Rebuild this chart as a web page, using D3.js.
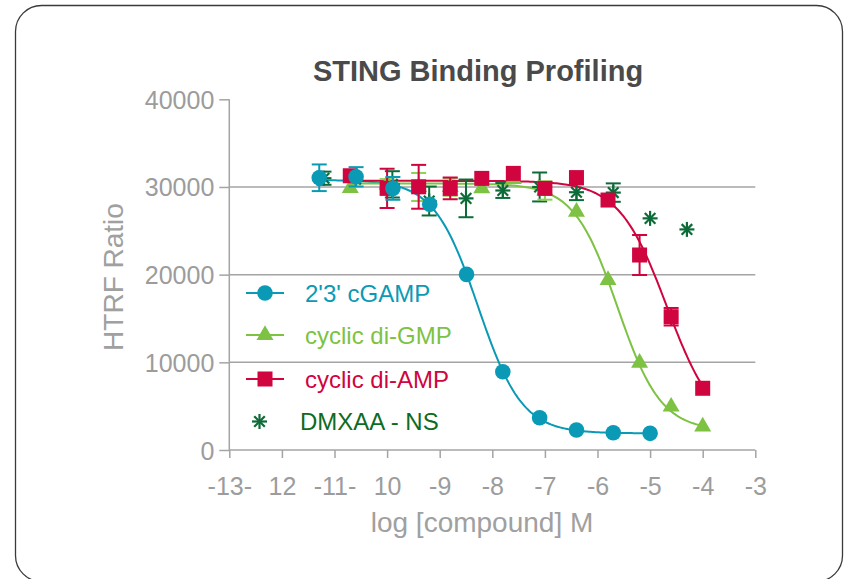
<!DOCTYPE html>
<html><head><meta charset="utf-8">
<script src="https://cdn.jsdelivr.net/npm/d3@7"></script>
<style>html,body{margin:0;padding:0;background:#fff;} svg{display:block;font-family:"Liberation Sans",Arial,Helvetica,sans-serif;}</style>
</head><body><svg id="c" width="844" height="579"></svg>
<script>
// ---- data ----
const chartTitle = "STING Binding Profiling";
const xAxisTitle = "log [compound] M";
const yAxisTitle = "HTRF Ratio";
const xTickValues = [-13,-12,-11,-10,-9,-8,-7,-6,-5,-4,-3];
const xTickLabels = ["-13-","12","-11-","10","-9","-8","-7","-6","-5","-4","-3"];
const yTickValues = [0,10000,20000,30000,40000];
const yGridValues = [10000,20000,30000];

const seriesNames = ["2'3' cGAMP","cyclic di-GMP","cyclic di-AMP","DMXAA - NS"];

const cgampX   = [-11.29,-10.59,-9.89,-9.19,-8.49,-7.80,-7.10,-6.40,-5.70,-5.00];
const cgampY   = [31050,31160,29840,28020,20030,8930,3680,2280,1970,1900];
const cgampErr = [1520,1100,1300,0,0,0,0,0,0,0];

const diGmpX   = [-10.7,-10.0,-9.4,-8.8,-8.2,-7.6,-7.0,-6.4,-5.8,-5.2,-4.6,-4.0];
const diGmpY   = [29870,30300,30000,30000,29840,30900,29600,27170,19380,9950,4940,2660];
const diGmpErr = [0,600,1600,1000,0,0,1050,0,0,0,0,0];

const diAmpX   = [-10.7,-10.0,-9.4,-8.8,-8.2,-7.6,-7.0,-6.4,-5.8,-5.2,-4.6,-4.0];
const diAmpY   = [31280,29840,30020,29840,30980,31550,29840,31070,28510,22240,15200,7040];
const diAmpErr = [0,2240,2500,1240,0,0,0,0,0,2280,1000,0];

const dmxaaX   = [-11.2,-10.6,-9.9,-9.2,-8.5,-7.8,-7.1,-6.4,-5.7,-5.0,-4.3];
const dmxaaY   = [31000,30900,30300,28400,28700,29600,30000,29400,29360,26420,25160];
const dmxaaErr = [750,0,1500,1650,2150,850,1650,900,1050,0,0];

// 4-parameter logistic fit parameters
const fitTop    = [30800,30400,30700];
const fitBottom = [1900,2200,2000];
const fitLogEC  = [-8.27,-5.62,-4.68];
const fitHill   = [1.04,1.05,0.95];
const fitFrom   = [-11.29,-10.7,-10.7];
const fitTo     = [-5.0,-4.0,-4.0];

const colors     = ["#0a9ab5","#7dc243","#d0043f","#0d6b38"];
const errColors  = ["#0a9ab5","#8fd057","#d0043f","#0d6b38"];
const textColors = ["#0a9ab5","#7dc243","#d0043f","#0f6b1e"];

// ---- drawing ----
const svg = d3.select("#c");
const axisColor = "#a4a4a4";
const x = d3.scaleLinear().domain([-13,-3]).range([229.3,755.3]);
const y = d3.scaleLinear().domain([0,40000]).range([450,99.3]);

// frame
svg.append("rect").attr("x",15.5).attr("y",5.5).attr("width",827).attr("height",576)
  .attr("rx",26).attr("ry",26).attr("fill","none").attr("stroke","#3a3a3a").attr("stroke-width",1.3);

// title
svg.append("text").attr("x",478).attr("y",81).attr("text-anchor","middle")
  .attr("font-size",29).attr("font-weight","bold").attr("fill","#4a4a4a").text(chartTitle);

// gridlines
svg.append("g").selectAll("line").data(yGridValues).join("line")
  .attr("x1",x(-13)).attr("x2",x(-3)).attr("y1",d=>y(d)).attr("y2",d=>y(d))
  .attr("stroke",axisColor).attr("stroke-width",1.5);

// axes
const yAxis = svg.append("g").attr("transform",`translate(${x(-13)},0)`)
  .call(d3.axisLeft(y).tickValues(yTickValues).tickSize(10).tickPadding(5).tickFormat(d3.format("d")));
const xAxis = svg.append("g").attr("transform",`translate(0,${y(0)})`)
  .call(d3.axisBottom(x).tickValues(xTickValues).tickSize(8).tickPadding(19).tickFormat((d,i)=>xTickLabels[i]));
[yAxis,xAxis].forEach(g=>{
  g.select(".domain").attr("stroke",axisColor).attr("stroke-width",1.5);
  g.selectAll(".tick line").attr("stroke",axisColor).attr("stroke-width",1.5);
  g.selectAll(".tick text").attr("fill","#9c9c9c").attr("font-size",25)
    .attr("font-family","'Liberation Sans',Arial,sans-serif");
});
yAxis.select(".domain").attr("d",`M0,${y(40000)}V${y(0)}`);
xAxis.select(".domain").attr("d",`M${x(-13)},0H${x(-3)}`);
yAxis.selectAll(".tick text").attr("dy","0.36em");
xAxis.selectAll(".tick text").attr("dy","0.71em");

// axis titles
svg.append("text").attr("x",482).attr("y",532).attr("text-anchor","middle")
  .attr("font-size",28).attr("fill","#a0a0a0").text(xAxisTitle);
svg.append("text").attr("transform","translate(123,277) rotate(-90)").attr("text-anchor","middle")
  .attr("font-size",28).attr("fill","#a0a0a0").text(yAxisTitle);

// fitted curves
const line = d3.line().x(d=>x(d[0])).y(d=>y(d[1])).curve(d3.curveLinear);
for (let s=0;s<3;s++){
  const pts = d3.range(0,201).map(i=>{
    const lx = fitFrom[s] + (fitTo[s]-fitFrom[s])*i/200;
    const v = fitBottom[s] + (fitTop[s]-fitBottom[s])/(1+Math.pow(10,(lx-fitLogEC[s])*fitHill[s]));
    return [lx,v];
  });
  svg.append("path").attr("d",line(pts)).attr("fill","none").attr("stroke",colors[s]).attr("stroke-width",2);
}

const series = [
  {x:cgampX,y:cgampY,e:cgampErr},
  {x:diGmpX,y:diGmpY,e:diGmpErr},
  {x:diAmpX,y:diAmpY,e:diAmpErr},
  {x:dmxaaX,y:dmxaaY,e:dmxaaErr}
];

function asterisk(g,cx,cy,r,color){
  const a = [0,45,90,135];
  a.forEach(deg=>{
    const t=deg*Math.PI/180;
    g.append("line").attr("x1",cx-r*Math.sin(t)).attr("y1",cy-r*Math.cos(t))
      .attr("x2",cx+r*Math.sin(t)).attr("y2",cy+r*Math.cos(t))
      .attr("stroke",color).attr("stroke-width",2.2);
  });
}
function marker(g,s,cx,cy){
  if(s===0) g.append("circle").attr("cx",cx).attr("cy",cy).attr("r",7.8).attr("fill",colors[0]);
  else if(s===1) g.append("path").attr("transform",`translate(${cx},${cy})`)
      .attr("d",d3.symbol(d3.symbolTriangle,125)()).attr("fill",colors[1]);
  else if(s===2) g.append("rect").attr("x",cx-7.5).attr("y",cy-7.5).attr("width",15).attr("height",15).attr("fill",colors[2]);
  else asterisk(g,cx,cy,7.5,colors[3]);
}

const order = [3,1,2,0];
order.forEach(s=>{
  const d = series[s];
  const g = svg.append("g");
  d.x.forEach((lx,i)=>{
    if(d.e[i]>0){
      const cx=x(lx), y1=y(d.y[i]-d.e[i]), y2=y(d.y[i]+d.e[i]);
      g.append("line").attr("x1",cx).attr("x2",cx).attr("y1",y1).attr("y2",y2).attr("stroke",errColors[s]).attr("stroke-width",2);
      [y1,y2].forEach(yy=>g.append("line").attr("x1",cx-7.5).attr("x2",cx+7.5).attr("y1",yy).attr("y2",yy).attr("stroke",errColors[s]).attr("stroke-width",2));
    }
  });
  d.x.forEach((lx,i)=>marker(g,s,x(lx),y(d.y[i])));
});

// legend
const legY = [293,335,379,421.5];
seriesNames.forEach((name,i)=>{
  const g = svg.append("g");
  if(i<3){
    g.append("line").attr("x1",246).attr("x2",284).attr("y1",legY[i]).attr("y2",legY[i]).attr("stroke",colors[i]).attr("stroke-width",2);
    marker(g,i,265,legY[i]);
  } else {
    asterisk(g,259.5,legY[i],7.5,colors[3]);
  }
  g.append("text").attr("x",i<3?305:300).attr("y",legY[i]).attr("dy","0.36em")
    .attr("font-size",24).attr("fill",textColors[i]).text(name);
});
</script>
</body></html>
